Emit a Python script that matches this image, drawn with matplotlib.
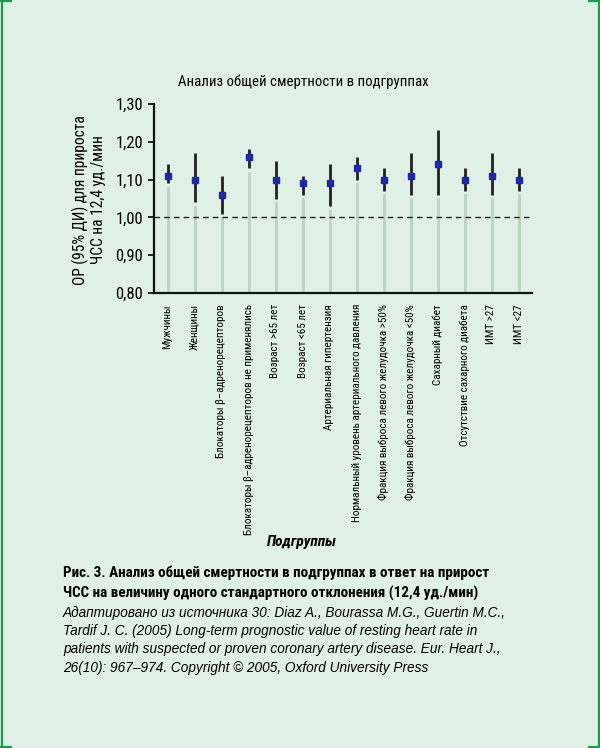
import matplotlib.pyplot as plt
from matplotlib.lines import Line2D

# =========================
# Data
# =========================
groups = [
    "Мужчины",
    "Женщины",
    "Блокаторы β–адренорецепторов",
    "Блокаторы β–адренорецепторов не применялись",
    "Возраст >65 лет",
    "Возраст <65 лет",
    "Артериальная гипертензия",
    "Нормальный уровень артериального давления",
    "Фракция выброса левого желудочка >50%",
    "Фракция выброса левого желудочка <50%",
    "Сахарный диабет",
    "Отсутствие сахарного диабета",
    "ИМТ >27",
    "ИМТ <27",
]
hr = [1.11, 1.10, 1.06, 1.16, 1.10, 1.09, 1.09, 1.13, 1.10, 1.11, 1.14, 1.10, 1.11, 1.10]
ci_low = [1.09, 1.04, 1.01, 1.13, 1.05, 1.06, 1.03, 1.10, 1.07, 1.06, 1.06, 1.07, 1.06, 1.07]
ci_high = [1.14, 1.17, 1.11, 1.18, 1.15, 1.11, 1.14, 1.16, 1.13, 1.17, 1.23, 1.13, 1.17, 1.13]
yticks = [0.80, 0.90, 1.00, 1.10, 1.20, 1.30]

title = "Анализ общей смертности в подгруппах"
ylabel_lines = ["ОР (95% ДИ) для прироста", "ЧСС на 12,4 уд./мин"]
xlabel = "Подгруппы"
caption_bold = ["Рис. 3. Анализ общей смертности в подгруппах в ответ на прирост",
                "ЧСС на величину одного стандартного отклонения (12,4 уд./мин)"]
caption_src = ["Адаптировано из источника 30: Diaz A., Bourassa M.G., Guertin M.C.,",
               "Tardif J. C. (2005) Long-term prognostic value of resting heart rate in",
               "patients with suspected or proven coronary artery disease. Eur. Heart J.,",
               "26(10): 967–974. Copyright © 2005, Oxford University Press"]

# =========================
# Style
# =========================
bg = "#e1f0e6"
frame_green = "#1a9a4a"
cond = ["Roboto Condensed", "DejaVu Sans"]
plain = ["Liberation Sans", "DejaVu Sans"]
W, H = 600, 748

fig = plt.figure(figsize=(W / 100, H / 100), dpi=100, facecolor=bg)


def fx(px):
    return px / W


def fy(py):
    return 1 - py / H


# bracket-like green frame
fr = dict(color=frame_green, lw=1.6, transform=fig.transFigure)
fig.add_artist(Line2D([fx(1.5), fx(1.5)], [0, 1], **fr))
fig.add_artist(Line2D([fx(598.5), fx(598.5)], [0, 1], **fr))
for xs in ([0, fx(11)], [fx(589), 1]):
    fig.add_artist(Line2D(xs, [fy(0.5), fy(0.5)], **fr))
    fig.add_artist(Line2D(xs, [fy(746.5), fy(746.5)], **fr))

# axes: x 154..532 px, y 104..293 px
ax = fig.add_axes([fx(154), fy(293), fx(532 - 154), (293 - 104) / H])
ax.set_facecolor(bg)

x = list(range(len(groups)))

# gray stems from the axis up to just below the CI
for xi, lo in zip(x, ci_low):
    ax.plot([xi, xi], [0.80, lo - 0.012], color="#bcd2c3", lw=2, zorder=1)

ax.axhline(1.0, color="#222222", lw=1, dashes=(4, 3), zorder=2)

ax.vlines(x, ci_low, ci_high, color="#222222", lw=2, zorder=3)
ax.plot(x, hr, ls="none", marker="s", ms=4.2, color="#1f2a9c", zorder=4)

ax.set_xlim(-0.5, 13.5)
ax.set_ylim(0.80, 1.30)
ax.set_yticks(yticks)
ax.set_yticklabels([f"{v:.2f}".replace(".", ",") for v in yticks], family=cond, fontsize=12)
ax.set_xticks(x)
ax.set_xticklabels(groups, rotation=90, family=cond, fontsize=8.0, va="top")
ax.tick_params(axis="x", length=0, pad=8)
ax.tick_params(axis="y", length=4, width=1.2, pad=4)

for s in ["top", "right"]:
    ax.spines[s].set_visible(False)
for s in ["left", "bottom"]:
    ax.spines[s].set_linewidth(1.6)
    ax.spines[s].set_color("#111111")

fig.text(fx(303), fy(82), title, family=cond, fontsize=10.7, ha="center", va="center")
for px, line in zip([80, 98], ylabel_lines):
    fig.text(fx(px), fy(200), line, family=cond, fontsize=11.2, rotation=90, ha="center", va="center")

fig.text(fx(302), fy(542), xlabel, family=cond, fontsize=11, fontweight="bold",
         style="italic", ha="center", va="center")

# caption
for py, line in zip([573, 593], caption_bold):
    fig.text(fx(63), fy(py), line, family=cond, fontsize=10.9, fontweight="bold", ha="left", va="center")
for py, line in zip([613, 631, 649, 668], caption_src):
    fig.text(fx(63), fy(py), line, family=plain, fontsize=9.8, style="italic", ha="left", va="center")

fig.savefig("out.png", dpi=100, facecolor=bg)
